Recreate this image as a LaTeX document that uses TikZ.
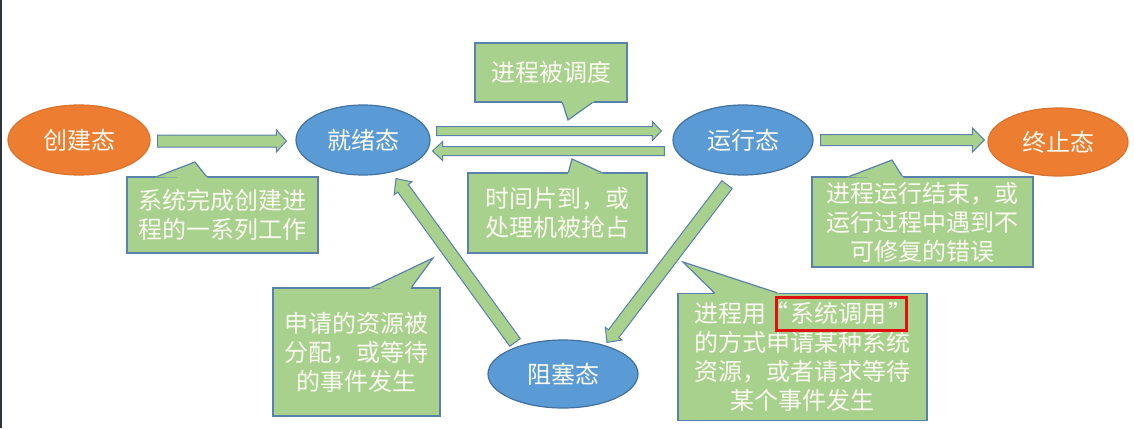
\documentclass[tikz,border=0pt]{standalone}
\usepackage{fontspec}
\setmainfont{Noto Sans CJK SC}
\usetikzlibrary{shapes.geometric,calc}
\definecolor{orng}{HTML}{ED7D31}
\definecolor{blu}{HTML}{5B9BD5}
\definecolor{blub}{HTML}{41719C}
\definecolor{grn}{HTML}{A9D18E}
\definecolor{grnb}{HTML}{5A80AC}
\definecolor{txt}{HTML}{FAFAF0}
\definecolor{redb}{HTML}{E01010}
\definecolor{edge}{HTML}{2E343A}
\newcommand\myleftq[1]{\makebox[1em][r]{#1\hspace{0.08em}}}
\newcommand\myrightq[1]{\makebox[1em][l]{\hspace{0.08em}#1}}
\tikzset{
  state/.style={ellipse, inner sep=0pt, line width=1.2pt, text=txt,
    font=\fontsize{24}{29}\selectfont},
  orangestate/.style={state, fill=orng, draw=orng!92!black},
  bluestate/.style={state, fill=blu, draw=blub},
  callbox/.style={rectangle, fill=grn, draw=grnb, line width=1.2pt, text=txt,
    align=center, font=\fontsize{24}{29}\selectfont, inner sep=0pt},
  cfill/.style={fill=grn},
  cline/.style={draw=grnb, line width=1.2pt, line join=miter},
  blockarr/.style={fill=grn, draw=grnb, line width=1pt, line join=miter},
  redbox/.style={draw=redb, line width=3pt},
}
% block arrow: start, tip, half shaft, half head, head length
\newcommand\blockarrow[5]{%
  \coordinate (ba-s) at (#1);
  \coordinate (ba-t) at (#2);
  \coordinate (ba-h) at ($(ba-t)!#5!(ba-s)$);
  \draw[blockarr] ($(ba-s)!#3!90:(ba-t)$) -- ($(ba-h)!#3!-90:(ba-s)$)
    -- ($(ba-h)!#4!-90:(ba-s)$) -- (ba-t) -- ($(ba-h)!#4!90:(ba-s)$)
    -- ($(ba-h)!#3!90:(ba-s)$) -- ($(ba-s)!#3!-90:(ba-t)$) -- cycle;}
% callout pointer: base1, apex, base2
\newcommand\callpointer[3]{%
  \coordinate (cp-a) at (#1);
  \coordinate (cp-b) at (#2);
  \coordinate (cp-c) at (#3);
  \fill[cfill] ($(cp-a)!-2.5pt!(cp-b)$) -- (cp-a) -- (cp-b) -- (cp-c)
    -- ($(cp-c)!-2.5pt!(cp-b)$) -- cycle;
  \draw[cline] (cp-a) -- (cp-b) -- (cp-c);}
\begin{document}
\begin{tikzpicture}[x=1pt,y=-1pt]
\useasboundingbox (0,0) rectangle (1134,428);
\fill[white] (0,0) rectangle (1134,428);
\draw[edge, line width=1.7pt] (0.85,0) -- (0.85,428);

% states
\node[orangestate, minimum width=142, minimum height=70] (create) at (79,140) {创建态};
\node[bluestate, minimum width=134, minimum height=70] (ready) at (363,140) {就绪态};
\node[bluestate, minimum width=140, minimum height=70] (run) at (743,140) {运行态};
\node[orangestate, minimum width=140, minimum height=68] (exit) at (1058,142) {终止态};
\node[bluestate, minimum width=150, minimum height=68] (block) at (563,374) {阻塞态};

% callouts
\node[callbox, minimum width=191, minimum height=76] (c1) at (222.5,215)
  {系统完成创建进\\程的一系列工作};
\callpointer{$(c1.north west)+(31,0)$}{195,162}{$(c1.north west)+(80,0)$}

\node[callbox, minimum width=152, minimum height=59] (c2) at (551,72.5) {进程被调度};
\callpointer{$(c2.south west)+(88,0)$}{568,120}{$(c2.south west)+(118,0)$}

\node[callbox, minimum width=179, minimum height=80] (c3) at (557.5,213)
  {时间片到，或\\处理机被抢占};
\callpointer{$(c3.north west)+(101,0)$}{572,159}{$(c3.north west)+(134,0)$}

\node[callbox, minimum width=221, minimum height=90] (c4) at (922.5,222)
  {进程运行结束，或\\运行过程中遇到不\\可修复的错误};
\callpointer{$(c4.north west)+(38,0)$}{892,160}{$(c4.north west)+(91,0)$}

\node[callbox, minimum width=167, minimum height=128] (c5) at (356.5,352)
  {申请的资源被\\分配，或等待\\的事件发生};
\callpointer{$(c5.north west)+(99,0)$}{433,258}{$(c5.north west)+(139,0)$}

\node[callbox, minimum width=249, minimum height=127] (c6) at (802.5,357)
  {进程用\myleftq{“}系统调用\myrightq{”}\\的方式申请某种系统\\资源，或者请求等待\\某个事件发生};
\callpointer{$(c6.north west)+(37,0)$}{683,262}{$(c6.north west)+(100,0)$}
\draw[redbox] ($(c6.north west)+(99,5)$) rectangle ($(c6.north west)+(229,38)$);

% arrows
\blockarrow{$(create.east)+(7,1)$}{$(ready.west)+(-9,1)$}{6pt}{11pt}{10pt}
\blockarrow{$(ready.east)+(6,-9)$}{$(run.west)+(-11,-9)$}{4.5pt}{9.5pt}{9pt}
\blockarrow{$(run.west)+(-8,11)$}{$(ready.east)+(2,11)$}{4.5pt}{9.5pt}{10pt}
\blockarrow{$(run.east)+(7,0)$}{$(exit.west)+(-3,-2)$}{5.5pt}{12pt}{12pt}
\blockarrow{$(run.south)+(-16,9)$}{$(block.north)+(44,3)$}{6.5pt}{10.5pt}{11pt}
\blockarrow{$(block.north)+(-48,3)$}{$(ready.south)+(33,3)$}{6.5pt}{11pt}{12pt}
\end{tikzpicture}
\end{document}
